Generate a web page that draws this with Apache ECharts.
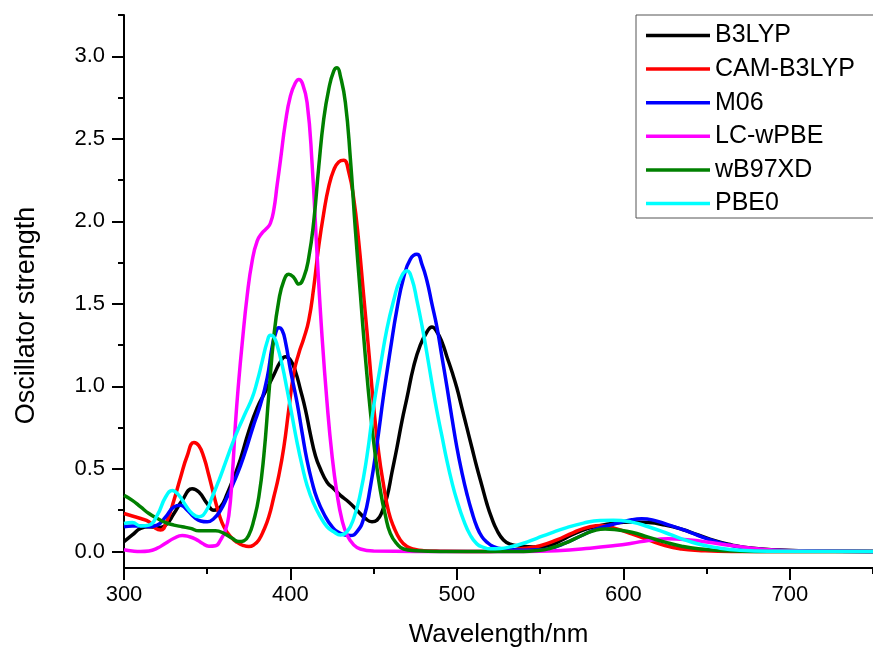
<html>
<head>
    <meta charset="utf-8">
    <script type="text/javascript" src="https://cdn.jsdelivr.net/npm/echarts@6/dist/echarts.min.js"></script>
    <title>spectra</title>
    <style>
        html, body { margin: 0; padding: 0; background: #fff; }
        #main { width: 873px; height: 655px; }
    </style>
</head>
<body>
<div id="main"></div>
<script type="text/javascript">
    // series names, in legend order
    var names = ['B3LYP', 'CAM-B3LYP', 'M06', 'LC-wPBE', 'wB97XD', 'PBE0'];
    var colors = ['#000000', '#ff0000', '#0000ff', '#ff00ff', '#008000', '#00ffff'];

    // axis tick values
    var xMajor = [300, 400, 500, 600, 700];
    var xMinor = [350, 450, 550, 650, 750];
    var yMajor = [0, 0.5, 1.0, 1.5, 2.0, 2.5, 3.0];
    var yMinor = [0.25, 0.75, 1.25, 1.75, 2.25, 2.75, 3.25];

    // [wavelength nm, oscillator strength]
    var b3lyp = [[300,.06],[305,.10],[310,.14],[315,.15],[320,.145],[325,.16],[330,.23],[335,.31],[341,.38],[345,.36],
        [350,.29],[354,.25],[358,.27],[362,.35],[366,.45],[370,.56],[375,.73],[380,.87],[385,.97],[390,1.07],
        [394,1.15],[397,1.18],[400,1.16],[403,1.09],[406,.98],[409,.86],[412,.71],[415,.58],[418,.50],[422,.42],
        [426,.38],[430,.34],[435,.30],[440,.25],[445,.20],[449,.18],[452,.19],[455,.24],[458,.33],[461,.48],
        [464,.63],[467,.79],[470,.93],[474,1.12],[478,1.25],[482,1.33],[485,1.36],[488,1.33],[491,1.27],[494,1.18],
        [497,1.09],[500,.99],[503,.87],[506,.75],[509,.63],[512,.51],[515,.40],[518,.29],[521,.20],[524,.13],
        [528,.07],[532,.045],[538,.033],[546,.027],[555,.035],[565,.08],[575,.127],[585,.155],[595,.172],[605,.178],
        [615,.175],[625,.16],[635,.135],[645,.10],[655,.065],[665,.04],[675,.022],[690,.01],[710,.004],[750,0]];

    var camb3lyp = [[300,.23],[305,.215],[310,.20],[315,.18],[319,.14],[322,.13],[326,.19],[330,.31],[334,.45],[338,.58],
        [342,.66],[345,.64],[348,.57],[351,.46],[354,.34],[357,.23],[360,.15],[364,.09],[368,.055],[372,.035],
        [375,.03],[378,.04],[381,.07],[384,.13],[387,.21],[390,.33],[393,.46],[396,.63],[399,.86],[402,1.08],
        [405,1.20],[408,1.29],[411,1.40],[414,1.60],[417,1.85],[420,2.05],[423,2.21],[426,2.31],[429,2.36],[432,2.37],
        [435,2.30],[438,2.14],[441,1.88],[444,1.55],[447,1.22],[450,.88],[453,.60],[456,.40],[459,.24],[462,.15],
        [466,.07],[470,.03],[475,.012],[480,.005],[490,.002],[520,0],[530,.005],[540,.018],[550,.035],[560,.07],
        [570,.115],[580,.15],[587,.158],[595,.14],[605,.107],[615,.07],[625,.036],[635,.015],[645,.006],[665,0],[750,0]];

    var m06 = [[300,.15],[305,.155],[310,.155],[315,.15],[320,.16],[325,.21],[330,.27],[334,.28],[338,.25],[342,.21],
        [346,.185],[350,.18],[354,.20],[358,.25],[362,.33],[366,.42],[370,.52],[374,.64],[378,.77],[382,.89],
        [386,1.05],[389,1.24],[391,1.32],[393,1.355],[395,1.34],[397,1.27],[400,1.10],[404,.90],[407,.72],[410,.55],
        [413,.42],[416,.32],[420,.23],[425,.15],[430,.11],[436,.097],[440,.12],[444,.20],[448,.39],[452,.65],
        [456,.95],[460,1.22],[464,1.47],[468,1.66],[472,1.77],[476,1.80],[479,1.74],[482,1.64],[485,1.50],[488,1.36],
        [491,1.18],[494,1.0],[497,.81],[500,.63],[503,.48],[506,.35],[509,.24],[512,.15],[515,.09],[518,.057],
        [522,.03],[528,.015],[540,.008],[550,.01],[555,.016],[565,.05],[575,.097],[585,.14],[595,.168],[605,.192],
        [611,.198],[618,.19],[625,.168],[635,.135],[645,.097],[655,.062],[665,.036],[675,.02],[685,.01],[700,.004],[750,0]];

    var lcwpbe = [[300,.01],[305,.003],[310,0],[315,.003],[320,.02],[325,.05],[330,.08],[335,.097],[339,.09],[343,.075],
        [347,.05],[351,.032],[355,.035],[358,.07],[361,.13],[363,.22],[365,.45],[367,.78],[369,1.04],[371,1.26],
        [374,1.55],[377,1.76],[380,1.88],[383,1.93],[386,1.96],[388,1.99],[390,2.07],[392,2.22],[394,2.37],[397,2.60],
        [400,2.76],[403,2.84],[405,2.86],[407,2.84],[410,2.72],[413,2.35],[416,1.80],[419,1.30],[422,.90],[425,.58],
        [428,.35],[431,.19],[434,.10],[438,.04],[442,.015],[450,.003],[500,0],[540,0],[560,.005],[580,.02],
        [595,.036],[605,.05],[615,.067],[627,.077],[640,.07],[650,.058],[665,.036],[685,.012],[710,.003],[750,0]];

    var wb97xd = [[300,.34],[305,.31],[310,.27],[315,.23],[320,.20],[325,.175],[330,.16],[335,.15],[340,.14],[345,.125],
        [350,.125],[355,.125],[360,.11],[365,.08],[369,.06],[372,.065],[375,.10],[378,.19],[381,.33],[384,.58],
        [387,.95],[390,1.30],[393,1.52],[396,1.64],[399,1.68],[402,1.66],[405,1.62],[408,1.66],[411,1.78],[414,2.0],
        [417,2.33],[420,2.62],[423,2.80],[426,2.91],[428,2.93],[430,2.88],[433,2.72],[436,2.38],[439,1.95],[442,1.56],
        [445,1.18],[448,.85],[451,.58],[454,.37],[457,.22],[460,.11],[464,.046],[468,.015],[475,.005],[490,0],
        [540,0],[550,.008],[555,.016],[565,.05],[575,.097],[582,.125],[589,.137],[597,.13],[605,.117],[615,.087],
        [625,.057],[635,.032],[645,.016],[660,.005],[680,0],[750,0]];

    var pbe0 = [[300,.17],[305,.175],[310,.155],[315,.16],[320,.22],[325,.33],[329,.37],[333,.34],[337,.28],[341,.23],
        [345,.21],[349,.24],[353,.33],[357,.43],[361,.54],[365,.65],[369,.75],[373,.84],[377,.93],[380,1.03],
        [383,1.15],[386,1.27],[388,1.31],[390,1.30],[392,1.25],[395,1.13],[398,.98],[401,.82],[404,.66],[407,.52],[410,.40],
        [414,.29],[418,.21],[422,.15],[426,.12],[430,.10],[434,.12],[438,.20],[442,.35],[446,.58],[450,.88],
        [454,1.12],[458,1.35],[462,1.52],[466,1.65],[470,1.70],[473,1.65],[476,1.52],[479,1.37],[482,1.20],[485,1.02],
        [488,.85],[491,.70],[494,.55],[497,.42],[500,.31],[504,.19],[508,.10],[512,.046],[516,.025],[520,.016],
        [526,.018],[532,.028],[540,.05],[548,.08],[556,.11],[566,.145],[576,.172],[586,.188],[594,.19],[605,.178],
        [615,.15],[625,.115],[635,.077],[645,.045],[655,.025],[670,.008],[690,.002],[750,0]];

    var allData = [b3lyp, camb3lyp, m06, lcwpbe, wb97xd, pbe0];

    var chart = echarts.init(document.getElementById('main'), null, {renderer: 'canvas'});
    var font = 'Arial, "Liberation Sans", sans-serif';

    var series = [];
    for (var i = 0; i < names.length; i++) {
        series.push({
            name: names[i],
            type: 'line',
            data: allData[i],
            smooth: 0.5,
            showSymbol: false,
            symbol: 'none',
            color: colors[i],
            lineStyle: {color: colors[i], width: 3.5},
            animation: false,
            z: 2 + i
        });
    }

    var option = {
        animation: false,
        backgroundColor: '#fff',
        textStyle: {fontFamily: font},
        grid: {left: 124, top: 15, right: -7, bottom: 87, containLabel: false},
        legend: {
            orient: 'vertical',
            left: 636, top: 15,
            padding: [8, 60, 2, 10],
            itemWidth: 64, itemHeight: 4, itemGap: 8.6,
            borderColor: '#555', borderWidth: 1,
            icon: 'path://M0,0 L64,0 L64,3.5 L0,3.5 Z',
            textStyle: {fontSize: 25, color: '#000', fontFamily: font, lineHeight: 25},
            data: names
        },
        xAxis: [{
            type: 'value', min: 300, max: 750, position: 'bottom',
            name: 'Wavelength/nm', nameLocation: 'middle', nameGap: 54,
            nameTextStyle: {fontSize: 26, color: '#000', fontFamily: font},
            axisLine: {onZero: false, lineStyle: {color: '#000', width: 2}},
            axisTick: {show: true, customValues: xMajor, length: 12, lineStyle: {color: '#000', width: 2}},
            axisLabel: {customValues: xMajor, fontSize: 22, color: '#000', margin: 16, fontFamily: font},
            splitLine: {show: false}
        }, {
            type: 'value', min: 300, max: 750, position: 'bottom', offset: 0,
            axisLine: {show: false, onZero: false},
            axisTick: {show: true, customValues: xMinor, length: 6, lineStyle: {color: '#000', width: 2}},
            axisLabel: {show: false},
            splitLine: {show: false}
        }],
        yAxis: [{
            type: 'value', min: -0.1, max: 3.25, position: 'left',
            name: 'Oscillator strength', nameLocation: 'middle', nameGap: 84,
            nameTextStyle: {fontSize: 27, color: '#000', fontFamily: font, padding: [0, 48, 0, 0]},
            axisLine: {onZero: false, lineStyle: {color: '#000', width: 2}},
            axisTick: {show: true, customValues: yMajor, length: 12, lineStyle: {color: '#000', width: 2}},
            axisLabel: {
                customValues: yMajor, fontSize: 22, color: '#000', margin: 19, fontFamily: font,
                formatter: function (v) { return v.toFixed(1); }
            },
            splitLine: {show: false}
        }, {
            type: 'value', min: -0.1, max: 3.25, position: 'left', offset: 0,
            axisLine: {show: false, onZero: false},
            axisTick: {show: true, customValues: yMinor, length: 6, lineStyle: {color: '#000', width: 2}},
            axisLabel: {show: false},
            splitLine: {show: false}
        }],
        series: series
    };
    chart.setOption(option);
</script>
</body>
</html>
